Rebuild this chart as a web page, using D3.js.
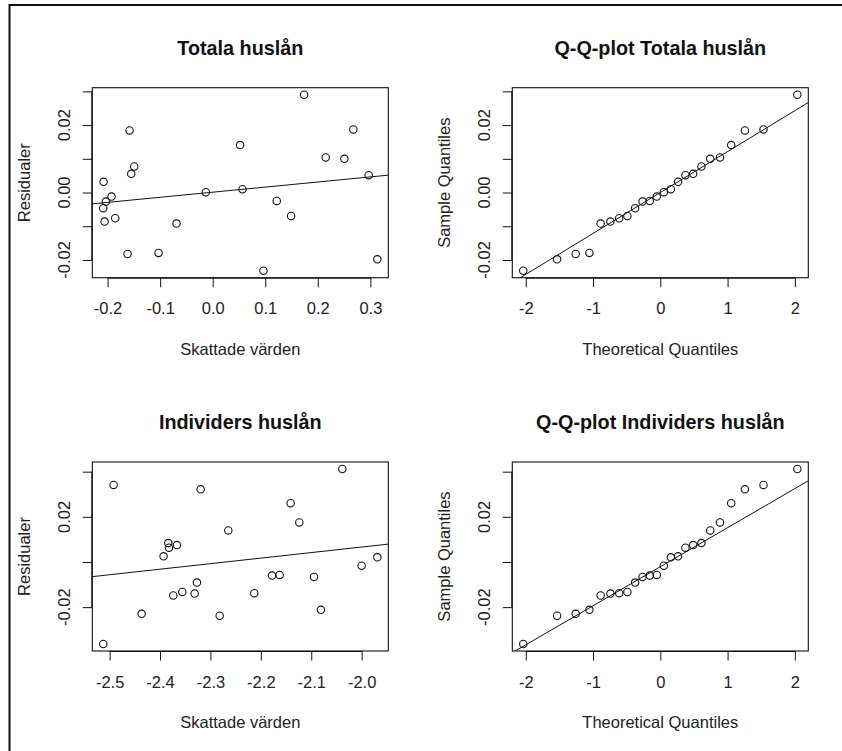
<!DOCTYPE html>
<html>
<head>
<meta charset="utf-8">
<script src="https://cdn.jsdelivr.net/npm/d3@7"></script>
<style>
  html, body { margin: 0; padding: 0; background: #fff; }
  svg { display: block; font-family: "Liberation Sans", Arial, Helvetica, sans-serif; }
</style>
</head>
<body>
<svg id="chart" width="842" height="751"></svg>
<script>
// ---------- Data ----------
const titles = ["Totala huslån", "Q-Q-plot Totala huslån", "Individers huslån", "Q-Q-plot Individers huslån"];
const xLabels = ["Skattade värden", "Theoretical Quantiles", "Skattade värden", "Theoretical Quantiles"];
const yLabels = ["Residualer", "Sample Quantiles", "Residualer", "Sample Quantiles"];

// Panel 1: residuals vs fitted (Totala huslån)
const fitted1 = [0.0966, 0.3133, -0.162, -0.103, -0.0688, -0.2057, -0.1854, 0.1492, -0.2082, -0.2032, 0.1219, -0.1924,
                 -0.0131, 0.0567, -0.2076, 0.2968, -0.155, -0.1493, 0.2506, 0.2151, 0.0522, -0.1582, 0.2677, 0.1739];
const resid1  = [-0.02317, -0.0198, -0.01822, -0.01792, -0.00921, -0.00861, -0.00762, -0.00693, -0.00465, -0.00267, -0.00248, -0.00119,
                 0.0001, 0.00099, 0.00317, 0.00515, 0.00554, 0.00772, 0.0100, 0.0104, 0.01406, 0.01842, 0.01871, 0.0290];
const line1 = [0.0001, 0.0151];          // intercept, slope

// Theoretical quantiles (n = 24)
const theoQ = [-2.037, -1.534, -1.258, -1.054, -0.887, -0.742, -0.611, -0.489, -0.374, -0.264, -0.157, -0.052,
               0.052, 0.157, 0.264, 0.374, 0.489, 0.611, 0.742, 0.887, 1.054, 1.258, 1.534, 2.037];

// Panel 2: sample quantiles (Totala huslån)
const sampleQ1 = [-0.02317, -0.0198, -0.01822, -0.01792, -0.00921, -0.00861, -0.00762, -0.00693, -0.00465, -0.00267, -0.00248, -0.00119,
                  0.0001, 0.00099, 0.00317, 0.00515, 0.00554, 0.00772, 0.0100, 0.0104, 0.01406, 0.01842, 0.01871, 0.0290];
const qqLine1 = [0.0000, 0.01214];

// Panel 3: residuals vs fitted (Individers huslån)
const fitted2 = [-2.4921, -2.5126, -2.4365, -2.3194, -2.2646, -2.3836, -2.3823, -2.3664, -2.3929, -2.3737, -2.3558, -2.3313,
                 -2.3267, -2.2817, -2.2130, -2.1779, -2.1627, -2.1409, -2.1237, -2.0946, -2.0807, -2.0384, -2.0000, -1.9689];
const resid2  = [0.03412, -0.03632, -0.02294, 0.0322, 0.01397, 0.00838, 0.00632, 0.0075, 0.0025, -0.01485, -0.01324, -0.01397,
                 -0.00912, -0.02382, -0.01382, -0.00603, -0.00574, 0.02603, 0.0175, -0.00662, -0.02118, 0.04118, -0.00162, 0.00206];
const line2 = [0.0557, 0.02454];

// Panel 4: sample quantiles (Individers huslån)
const sampleQ2 = [-0.03632, -0.02382, -0.02294, -0.02118, -0.01485, -0.01397, -0.01382, -0.01324, -0.00912, -0.00662, -0.00603, -0.00574,
                  -0.00162, 0.00206, 0.0025, 0.00632, 0.0075, 0.00838, 0.01397, 0.0175, 0.02603, 0.0322, 0.03412, 0.04118];
const qqLine2 = [-0.0021, 0.0173];

// Tick values and labels
const xTicks1 = [-0.2, -0.1, 0.0, 0.1, 0.2, 0.3];
const xTicks3 = [-2.5, -2.4, -2.3, -2.2, -2.1, -2.0];
const xTicksQ = [-2, -1, 0, 1, 2];
const yTicksTop = [-0.02, -0.01, 0.00, 0.01, 0.02, 0.03];
const yLabelTicksTop = [-0.02, 0.00, 0.02];
const yTicksBottom = [-0.02, 0.00, 0.02, 0.04];
const yLabelTicksBottom = [-0.02, 0.02];

// ---------- Drawing ----------
const svg = d3.select("#chart");
svg.append("rect").attr("width", 842).attr("height", 751).attr("fill", "#fff");
// outer frame (left and top edges visible)
svg.append("path").attr("d", "M9.5,751V5H842").attr("fill", "none").attr("stroke", "#111").attr("stroke-width", 2);

const FS = 16.5, TFS = 19.8;
const ink = "#111";

function ext(arr) {
  const [a, b] = d3.extent(arr);
  const pad = (b - a) * 0.04;
  return [a - pad, b + pad];
}

const panels = [
  { x: fitted1, y: resid1, line: line1, xt: xTicks1, xfmt: d3.format(".1f"), yt: yTicksTop, yl: yLabelTicksTop,
    box: [92.3, 87.7, 388.3, 277.7] },
  { x: theoQ, y: sampleQ1, line: qqLine1, xt: xTicksQ, xfmt: d3.format("d"), yt: yTicksTop, yl: yLabelTicksTop,
    box: [512.3, 87.7, 808.3, 277.7] },
  { x: fitted2, y: resid2, line: line2, xt: xTicks3, xfmt: d3.format(".1f"), yt: yTicksBottom, yl: yLabelTicksBottom,
    box: [92.3, 462, 388.3, 651] },
  { x: theoQ, y: sampleQ2, line: qqLine2, xt: xTicksQ, xfmt: d3.format("d"), yt: yTicksBottom, yl: yLabelTicksBottom,
    box: [512.3, 462, 808.3, 651] }
];

const fmtY = d3.format(".2f");
function minusFmt(s) { return s.replace("−", "-"); }

panels.forEach((p, i) => {
  const [x0, y0, x1, y1] = p.box;
  const xs = d3.scaleLinear().domain(ext(p.x)).range([x0, x1]);
  const ys = d3.scaleLinear().domain(ext(p.y)).range([y1, y0]);
  const g = svg.append("g");

  // clip
  const cid = "clip" + i;
  svg.append("clipPath").attr("id", cid).append("rect")
    .attr("x", x0).attr("y", y0).attr("width", x1 - x0).attr("height", y1 - y0);

  // title
  g.append("text").attr("x", (x0 + x1) / 2).attr("y", y0 - 33)
    .attr("text-anchor", "middle").attr("font-weight", "bold").attr("font-size", TFS).attr("fill", ink)
    .text(titles[i]);

  // x axis
  const xa = g.append("g").attr("transform", `translate(0,${y1})`)
    .call(d3.axisBottom(xs).tickValues(p.xt).tickSize(9.5).tickPadding(10).tickFormat(d => minusFmt(p.xfmt(d))));
  xa.select(".domain").attr("d", `M${xs(p.xt[0])},0.5H${xs(p.xt[p.xt.length - 1])}`).attr("stroke", ink);
  xa.selectAll(".tick line").attr("stroke", ink);
  xa.selectAll(".tick text").attr("font-size", FS).attr("font-family", null).attr("fill", "#222")
    .attr("dy", null).attr("y", 36.5);

  // y axis
  const ya = g.append("g").attr("transform", `translate(${x0},0)`)
    .call(d3.axisLeft(ys).tickValues(p.yt).tickSize(9.5).tickFormat(""));
  ya.select(".domain").attr("d", `M-0.5,${ys(p.yt[0])}V${ys(p.yt[p.yt.length - 1])}`).attr("stroke", ink);
  ya.selectAll(".tick line").attr("stroke", ink);
  g.selectAll(".ylab").data(p.yl).enter().append("text")
    .attr("transform", d => `translate(${x0 - 22.5},${ys(d)}) rotate(-90)`)
    .attr("text-anchor", "middle").attr("font-size", FS).attr("fill", "#222")
    .text(d => minusFmt(fmtY(d)));

  // axis titles
  g.append("text").attr("x", (x0 + x1) / 2).attr("y", y1 + 77)
    .attr("text-anchor", "middle").attr("font-size", FS).attr("fill", "#222").text(xLabels[i]);
  g.append("text").attr("transform", `translate(${x0 - 62.5},${(y0 + y1) / 2}) rotate(-90)`)
    .attr("text-anchor", "middle").attr("font-size", FS).attr("fill", "#222").text(yLabels[i]);

  // fitted line
  const [dx0, dx1] = xs.domain();
  const [a, b] = p.line;
  g.append("line").attr("clip-path", `url(#${cid})`)
    .attr("x1", xs(dx0)).attr("y1", ys(a + b * dx0))
    .attr("x2", xs(dx1)).attr("y2", ys(a + b * dx1))
    .attr("stroke", ink).attr("stroke-width", 1);

  // points
  g.selectAll("circle").data(p.x.map((v, k) => [v, p.y[k]])).enter().append("circle")
    .attr("cx", d => xs(d[0])).attr("cy", d => ys(d[1])).attr("r", 3.7)
    .attr("fill", "none").attr("stroke", ink).attr("stroke-width", 1.1);

  // box
  g.append("rect").attr("x", x0).attr("y", y0).attr("width", x1 - x0).attr("height", y1 - y0)
    .attr("fill", "none").attr("stroke", ink).attr("stroke-width", 1.1);
});
</script>
</body>
</html>
